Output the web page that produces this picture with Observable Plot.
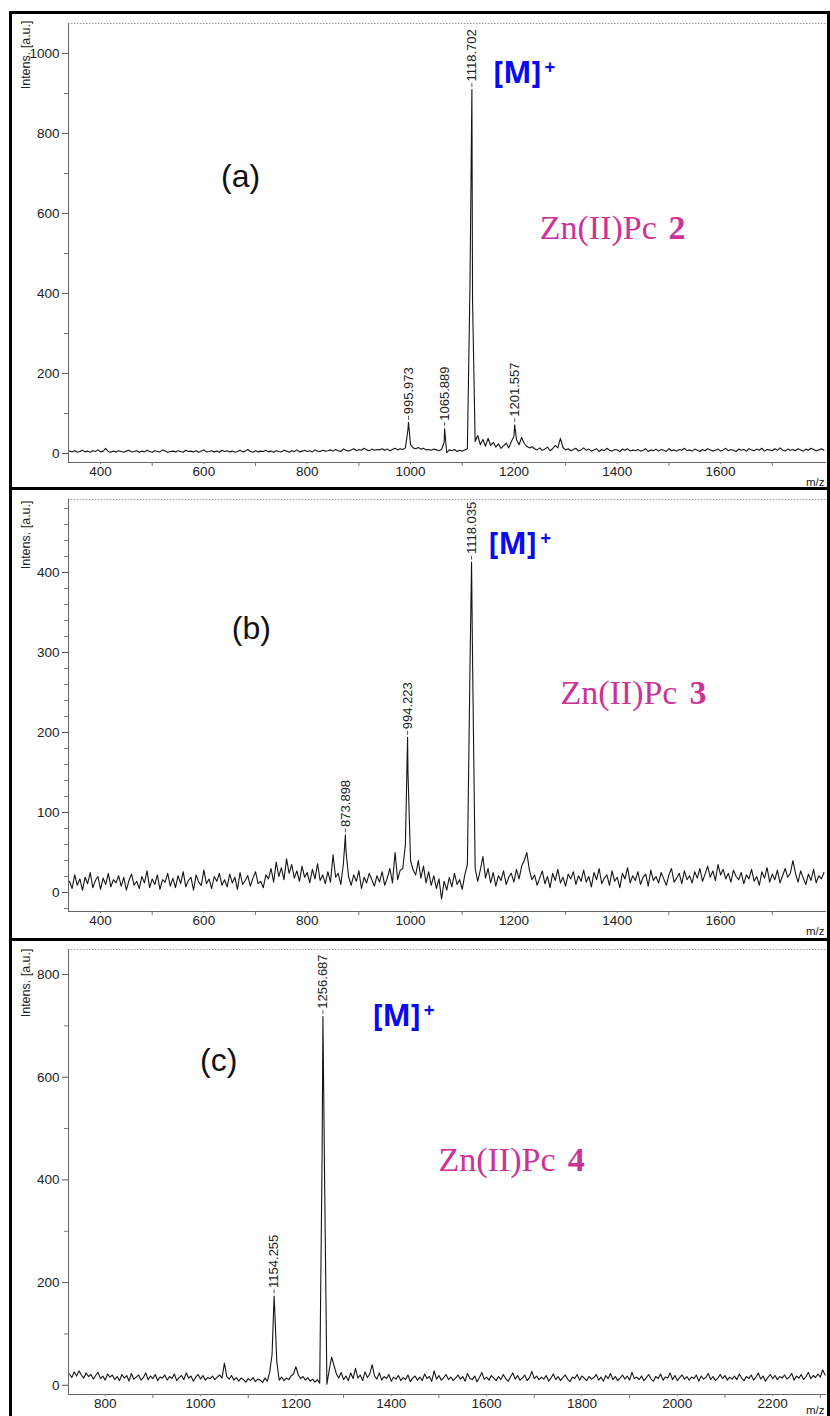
<!DOCTYPE html>
<html>
<head>
<meta charset="utf-8">
<script src="https://cdn.jsdelivr.net/npm/d3@7"></script>
<script src="https://cdn.jsdelivr.net/npm/@observablehq/plot@0.6"></script>
<style>
  html, body { margin: 0; padding: 0; background: #fff; }
  #fig { position: relative; width: 830px; height: 1416px; overflow: hidden; background: #fff; }
  .frame { position: absolute; box-sizing: border-box; border: 3px solid #000; pointer-events: none; }
</style>
</head>
<body>
<div id="fig"></div>
<script>
// ---------- MALDI-TOF spectra, sampled every 5 m/z ----------

// (a) Zn(II)Pc 2
const mzStartA = 340, mzStepA = 5;
const intensA = [
  /* 340 */ 6,4,7,3,5,8,4,6,3,7,5,9,4,6,13,5,3,6,4,7,
  /* 440 */ 5,3,6,8,4,5,7,3,6,4,8,5,3,7,5,4,9,6,3,5,
  /* 540 */ 6,4,7,5,3,8,5,6,4,7,3,6,9,4,5,7,4,6,3,8,
  /* 640 */ 5,7,4,6,3,5,8,4,6,10,5,3,7,4,6,5,8,4,6,3,
  /* 740 */ 7,5,4,8,6,3,7,5,9,4,6,8,5,7,4,9,6,5,8,6,
  /* 840 */ 7,9,6,10,7,5,11,8,6,9,12,7,10,8,13,9,7,11,8,10,
  /* 940 */ 9,12,8,11,7,10,13,9,12,10,14,60,22,14,12,15,11,13,9,10,
  /*1040 */ 8,11,9,7,10,28,2,9,7,10,5,8,6,9,12,420,380,30,45,22,
  /*1140 */ 35,18,38,20,28,16,24,13,19,26,14,30,42,35,22,40,25,18,14,17,
  /*1240 */ 12,9,14,8,11,16,7,12,20,14,38,15,9,12,7,10,13,6,9,14,
  /*1340 */ 8,11,6,9,12,5,10,7,13,8,6,10,9,5,11,8,12,6,9,7,
  /*1440 */ 10,6,8,12,5,9,7,11,6,10,8,5,12,7,9,6,10,8,13,7,
  /*1540 */ 9,6,11,8,5,10,7,12,9,6,8,11,6,9,13,7,10,8,5,11,
  /*1640 */ 8,10,6,12,9,7,11,8,13,6,10,9,7,12,8,14,9,6,11,8,
  /*1740 */ 10,7,12,9,6,11,8,13,10,7,9,12,8
];
const peakMzA = [995.973, 1065.889, 1118.702, 1201.557];
const peakIntA = [78, 62, 910, 72];
const xTicksA = [400, 600, 800, 1000, 1200, 1400, 1600];
const xMinorA = [500, 700, 900, 1100, 1300, 1500, 1700];
const yTicksA = [0, 200, 400, 600, 800, 1000];
const yMinorA = [100, 300, 500, 700, 900];

// (b) Zn(II)Pc 3
const mzStartB = 340, mzStepB = 5;
const intensB = [
  /* 340 */ 14,5,22,9,17,3,19,11,25,6,15,20,4,18,10,24,7,16,12,21,
  /* 440 */ 8,19,3,15,23,9,14,5,20,12,27,6,17,10,22,4,16,13,24,8,
  /* 540 */ 18,6,21,11,26,7,15,19,3,22,13,9,28,11,17,5,20,14,24,9,
  /* 640 */ 16,7,23,12,19,4,25,10,15,21,8,18,26,11,14,6,22,17,30,13,
  /* 740 */ 38,20,31,16,42,24,35,18,27,14,33,19,25,12,29,17,36,15,22,11,
  /* 840 */ 26,13,47,19,24,10,36,52,20,9,22,14,27,5,19,12,24,16,8,21,
  /* 940 */ 13,26,9,18,30,12,50,16,28,30,60,150,40,28,22,40,18,33,12,26,
  /*1040 */ 9,21,5,17,-8,14,3,19,7,24,10,16,4,22,35,280,290,30,14,28,
  /*1140 */ 45,18,30,12,25,8,21,15,27,10,19,24,13,29,17,33,40,50,28,16,
  /*1240 */ 22,9,18,27,11,20,6,24,15,29,12,19,8,23,17,26,10,21,14,28,
  /*1340 */ 13,20,7,25,16,30,11,18,22,9,27,14,19,6,24,17,31,12,21,15,
  /*1440 */ 26,10,19,23,8,28,15,20,12,25,17,9,22,30,13,18,24,11,27,16,
  /*1540 */ 21,12,26,18,30,14,23,33,19,27,15,35,22,29,17,24,13,28,20,16,
  /*1640 */ 25,11,22,17,29,14,20,9,26,18,31,13,23,16,28,12,21,30,19,24,
  /*1740 */ 40,24,13,27,18,10,23,15,29,12,21,17,25
];
const peakMzB = [873.898, 994.223, 1118.035];
const peakIntB = [72, 194, 413];
const xTicksB = [400, 600, 800, 1000, 1200, 1400, 1600];
const xMinorB = [500, 700, 900, 1100, 1300, 1500, 1700];
const yTicksB = [0, 100, 200, 300, 400];
const yMinorB = [-20, 20, 40, 60, 80, 120, 140, 160, 180, 220, 240, 260, 280, 320, 340, 360, 380, 420, 440, 460, 480];

// (c) Zn(II)Pc 4
const mzStartC = 725, mzStepC = 5;
const intensC = [
  /* 725 */ 22,15,26,18,28,20,14,24,17,21,12,19,25,13,18,10,22,16,20,11,
  /* 825 */ 17,9,21,14,19,8,23,12,16,20,10,15,24,11,18,13,21,9,16,14,
  /* 925 */ 20,10,17,13,22,9,15,19,11,24,14,18,8,16,21,12,19,10,15,13,
  /*1025 */ 18,11,16,20,14,43,17,12,19,10,15,8,14,11,6,13,9,15,7,12,
  /*1125 */ 10,5,14,8,25,60,160,45,10,16,9,14,11,18,22,36,20,13,17,10,
  /*1225 */ 15,8,12,6,11,4,450,420,2,30,55,38,22,14,25,11,18,9,24,13,
  /*1325 */ 33,14,20,9,26,15,22,40,18,12,24,10,17,13,21,8,16,12,19,9,
  /*1425 */ 15,11,20,7,14,18,10,16,9,22,13,17,8,28,12,19,10,15,21,11,
  /*1525 */ 16,9,14,20,12,17,8,23,13,11,18,7,15,25,12,16,10,19,14,9,
  /*1625 */ 17,11,21,13,8,16,24,12,19,10,14,20,9,15,27,13,18,11,16,12,
  /*1725 */ 19,8,14,22,11,17,9,15,20,12,7,16,13,21,10,18,14,9,17,12,
  /*1825 */ 15,21,10,16,8,19,13,23,11,17,9,14,20,12,18,10,25,13,16,11,
  /*1925 */ 18,9,15,21,12,8,17,13,22,10,16,14,24,11,19,9,15,20,12,17,
  /*2025 */ 10,16,13,20,8,18,12,15,23,11,17,9,14,21,13,19,10,16,12,18,
  /*2125 */ 11,22,14,9,17,13,20,10,16,24,12,18,8,15,21,13,19,11,17,14,
  /*2225 */ 20,12,16,23,10,18,14,21,11,17,25,13,19,15,22,16,30,20
];
const peakMzC = [1154.255, 1256.687];
const peakIntC = [174, 718];
const xTicksC = [800, 1000, 1200, 1400, 1600, 1800, 2000, 2200];
const xMinorC = [900, 1100, 1300, 1500, 1700, 1900, 2100, 2300];
const yTicksC = [0, 200, 400, 600, 800];
const yMinorC = [100, 300, 500, 700];

// ---------- drawing ----------
const NARROW = "'Liberation Sans Narrow','Arial Narrow','Liberation Sans',Arial,sans-serif";
const SANS = "'Liberation Sans',Arial,sans-serif";
const BOLD_SANS = "'Open Sans','Liberation Sans',sans-serif";
const SERIF = "'Liberation Serif','Times New Roman',serif";
const BLUE = "#0a0af2";
const MAGENTA = "#cc3399";
const fmt = d3.format(".3f");
const tickFmt = d3.format("d");

function buildTrace(start, step, values, peakMz, peakInt) {
  const pts = values.map((v, i) => ({mz: start + i * step, v}));
  peakMz.forEach((mz, i) => pts.push({mz, v: peakInt[i]}));
  return pts.sort((a, b) => a.mz - b.mz);
}

const fig = document.getElementById("fig");

function drawPanel(p) {
  const plotH = p.height - p.mt - p.mb;
  const unitPx = plotH / (p.yDomain[1] - p.yDomain[0]);
  const leader = 4 / unitPx;
  const trace = buildTrace(p.start, p.step, p.values, p.peakMz, p.peakInt);
  const peaks = p.peakMz.map((mz, i) => ({mz, v: p.peakInt[i], label: fmt(mz)}));

  const chart = Plot.plot({
    width: 830,
    height: p.height,
    marginLeft: 68,
    marginRight: 4,
    marginTop: p.mt,
    marginBottom: p.mb,
    x: {domain: p.xDomain},
    y: {domain: p.yDomain},
    style: {background: "transparent", overflow: "visible", fontFamily: NARROW},
    marks: [
      // plot-area edges
      Plot.ruleY([p.yDomain[1]], {stroke: "#9a9a9a", strokeDasharray: "1.5,1.5"}),
      Plot.ruleY([p.yDomain[0]], {stroke: "#666"}),
      Plot.ruleX([p.xDomain[0]], {stroke: "#666"}),
      // axes
      Plot.axisY(p.yMinor, {tickSize: 4, tickFormat: () => "", label: null, stroke: "#777"}),
      Plot.axisY(p.yTicks, {tickSize: 6, tickPadding: 3, tickFormat: tickFmt, label: null, stroke: "#555",
        fill: "#222", fontSize: 13.5, fontFamily: NARROW}),
      Plot.axisX(p.xMinor, {tickSize: 4, tickFormat: () => "", label: null, stroke: "#777"}),
      Plot.axisX(p.xTicks, {tickSize: 2, tickPadding: 2, tickFormat: tickFmt, label: null, stroke: "#777",
        fill: "#222", fontSize: 13.5, fontFamily: NARROW}),
      Plot.text(["Intens. [a.u.]"], {text: d => d, frameAnchor: "top-left", rotate: -90, textAnchor: "end",
        dx: -47, dy: p.labelDy, fontSize: 12.5, fontFamily: NARROW, fill: "#222"}),
      Plot.text(["m/z"], {text: d => d, frameAnchor: "bottom-right", textAnchor: "end", lineAnchor: "bottom",
        dx: -2, dy: p.mzDy, fontSize: 11.5, fontFamily: NARROW, fill: "#222"}),
      // spectrum
      Plot.line(trace, {x: "mz", y: "v", stroke: "#151515", strokeWidth: 1.1}),
      // peak annotations
      Plot.ruleX(peaks, {x: "mz", y1: "v", y2: d => d.v + leader, dy: -2, stroke: "#333", strokeWidth: 0.8}),
      Plot.text(peaks, {x: "mz", y: "v", text: "label", rotate: -90, textAnchor: "start", dy: -8,
        fontSize: 13, fontFamily: NARROW, fill: "#222"}),
      // panel tag, molecular ion and compound name
      Plot.text([p.tag], {x: p.tagX, y: p.tagY, text: d => d, textAnchor: "middle", lineAnchor: "bottom",
        fontSize: 32, fontFamily: SANS, fill: "#111"}),
      Plot.text(["[M]"], {x: p.ionX, y: p.ionY, text: d => d, textAnchor: "start", lineAnchor: "bottom",
        fontSize: 30, fontWeight: "bold", fontFamily: BOLD_SANS, fill: BLUE}),
      Plot.text(["+"], {x: p.plusX, y: p.plusY, text: d => d, textAnchor: "start", lineAnchor: "bottom",
        fontSize: 19, fontWeight: "bold", fontFamily: BOLD_SANS, fill: BLUE}),
      Plot.text(["Zn(II)Pc"], {x: p.nameX, y: p.nameY, text: d => d, textAnchor: "start", lineAnchor: "bottom",
        fontSize: 34, fontFamily: SERIF, fill: MAGENTA}),
      Plot.text([p.num], {x: p.numX, y: p.nameY, text: d => d, textAnchor: "start", lineAnchor: "bottom",
        fontSize: 34, fontWeight: "bold", fontFamily: SERIF, fill: MAGENTA})
    ]
  });
  chart.style.position = "absolute";
  chart.style.left = "0px";
  chart.style.top = p.top + "px";
  fig.appendChild(chart);
}

drawPanel({
  top: 12, height: 476, mt: 11, mb: 26, labelDy: -3, mzDy: 23,
  xDomain: [338, 1805], yDomain: [-22.5, 1075],
  start: mzStartA, step: mzStepA, values: intensA, peakMz: peakMzA, peakInt: peakIntA,
  xTicks: xTicksA, xMinor: xMinorA, yTicks: yTicksA, yMinor: yMinorA,
  tag: "(a)", tagX: 671, tagY: 667,
  ionX: 1160, ionY: 927, plusX: 1259, plusY: 950,
  num: "2", nameX: 1250, numX: 1499, nameY: 537
});

drawPanel({
  top: 490, height: 448, mt: 9, mb: 27, labelDy: 1, mzDy: 23,
  xDomain: [338, 1805], yDomain: [-23.75, 491.25],
  start: mzStartB, step: mzStepB, values: intensB, peakMz: peakMzB, peakInt: peakIntB,
  xTicks: xTicksB, xMinor: xMinorB, yTicks: yTicksB, yMinor: yMinorB,
  tag: "(b)", tagX: 692, tagY: 317,
  ionX: 1151, ionY: 423, plusX: 1251, plusY: 434,
  num: "3", nameX: 1290, numX: 1540, nameY: 236
});

drawPanel({
  top: 940, height: 476, mt: 9, mb: 22, labelDy: -1, mzDy: 19,
  xDomain: [723, 2313], yDomain: [-18, 848.8],
  start: mzStartC, step: mzStepC, values: intensC, peakMz: peakMzC, peakInt: peakIntC,
  xTicks: xTicksC, xMinor: xMinorC, yTicks: yTicksC, yMinor: yMinorC,
  tag: "(c)", tagX: 1038, tagY: 613,
  ionX: 1361, ionY: 700, plusX: 1468, plusY: 717,
  num: "4", nameX: 1499, numX: 1770, nameY: 418
});

// panel frames
[[11, 479], [487, 454], [938, 500]].forEach(([top, h]) => {
  const f = document.createElement("div");
  f.className = "frame";
  f.style.left = "9px";
  f.style.top = top + "px";
  f.style.width = "821px";
  f.style.height = h + "px";
  fig.appendChild(f);
});
</script>
</body>
</html>
